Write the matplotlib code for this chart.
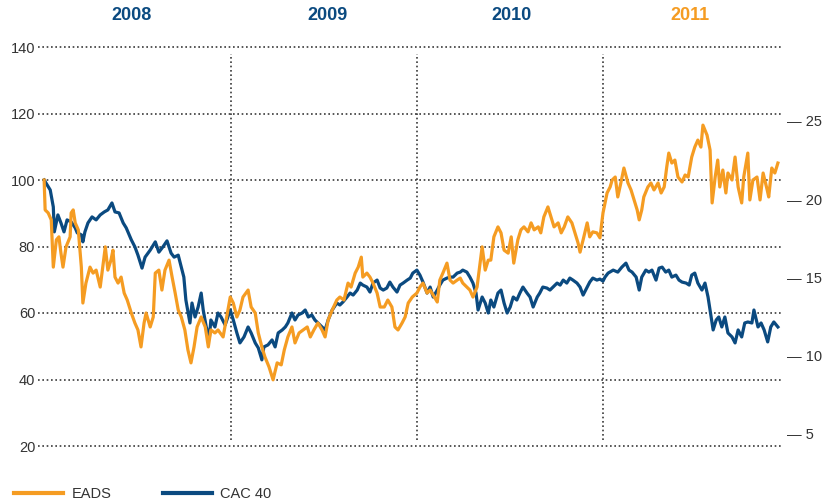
import matplotlib
matplotlib.use("Agg")
import matplotlib.pyplot as plt
from matplotlib.lines import Line2D
import numpy as np
import pandas as pd

plt.rcParams['font.family'] = ['Liberation Sans', 'DejaVu Sans']

# ---- data (days since 2008-01-01, index value base 100) ----
cac_days = [0, 12, 18, 20, 27, 33, 39, 45, 53, 61, 65, 73, 76, 80, 86, 94, 102, 110, 118, 125,
            133, 139, 147, 155, 161, 171, 178, 184, 192, 198, 208, 218, 225, 233, 241, 249, 255, 263, 269, 274,
            278, 286, 290, 296, 302, 308, 312, 318, 324, 327, 335, 341, 347, 355, 365, 371, 378, 384, 392, 400,
            406, 414, 420, 427, 431, 439, 447, 453, 459, 467, 473, 478, 486, 492, 498, 506, 512, 518, 525, 531,
            537, 545, 551, 557, 565, 574, 580, 586, 594, 600, 606, 614, 620, 625, 633, 639, 645, 653, 659, 665,
            672, 678, 684, 692, 698, 704, 712, 718, 723, 731, 737, 743, 751, 757, 763, 771, 776, 782, 790, 796,
            802, 810, 816, 821, 829, 835, 841, 847, 851, 859, 865, 871, 876, 882, 890, 896, 902, 908, 914, 920,
            927, 933, 939, 947, 953, 959, 967, 972, 978, 986, 992, 998, 1006, 1012, 1018, 1025, 1031, 1037, 1045, 1051,
            1057, 1065, 1070, 1076, 1084, 1090, 1096, 1100, 1106, 1116, 1125, 1133, 1141, 1147, 1153, 1161, 1167, 1172, 1180, 1186,
            1192, 1200, 1206, 1212, 1219, 1225, 1231, 1239, 1245, 1251, 1259, 1265, 1270, 1276, 1282, 1290, 1296, 1302, 1308, 1312,
            1318, 1323, 1329, 1335, 1341, 1349, 1355, 1361, 1368, 1374, 1380, 1388, 1392, 1400, 1406, 1412, 1419, 1425, 1431, 1439]
cac_values = [100.0, 97.0, 91.9, 84.4, 89.5, 87.1, 84.4, 88.0, 87.4, 85.6, 84.1, 83.5, 81.4, 84.4, 87.1, 88.9, 88.0, 89.5, 90.4, 91.0,
              93.1, 90.4, 90.1, 87.1, 85.6, 82.0, 79.9, 77.4, 73.5, 76.8, 78.9, 81.4, 78.3, 79.9, 81.7, 78.0, 76.8, 77.4, 73.8, 70.8,
              63.9, 57.0, 63.0, 58.8, 61.8, 66.0, 60.9, 55.8, 52.5, 57.9, 55.8, 60.0, 58.8, 56.4, 60.9, 57.9, 54.0, 51.0, 52.8, 55.8,
              54.0, 51.0, 49.5, 45.9, 49.8, 50.4, 51.9, 49.8, 54.0, 54.9, 55.8, 57.0, 60.0, 57.9, 59.4, 60.0, 60.9, 58.8, 59.4, 57.9,
              57.0, 55.8, 54.9, 57.9, 60.9, 63.0, 62.4, 63.3, 64.8, 66.0, 65.4, 66.9, 69.0, 68.4, 67.8, 66.3, 69.0, 69.9, 67.5, 66.9,
              67.5, 69.3, 67.8, 66.3, 68.4, 69.0, 69.9, 70.5, 72.0, 72.9, 71.4, 69.3, 66.0, 67.8, 64.8, 66.9, 68.4, 69.9, 70.5, 70.8,
              70.8, 72.0, 72.3, 72.9, 72.3, 70.8, 69.0, 66.0, 60.9, 64.8, 63.0, 60.0, 63.9, 61.8, 66.0, 66.9, 63.0, 60.0, 61.8, 64.8,
              63.9, 66.0, 67.8, 66.0, 64.8, 61.8, 64.8, 66.0, 67.8, 67.5, 66.9, 67.8, 69.0, 68.4, 69.9, 69.0, 70.5, 69.9, 69.0, 67.8,
              65.4, 67.8, 69.3, 70.5, 69.9, 70.2, 69.6, 70.8, 72.0, 72.9, 72.3, 73.8, 75.0, 72.9, 72.3, 70.8, 66.9, 70.8, 72.9, 72.3,
              72.9, 69.9, 73.5, 73.8, 72.3, 72.9, 70.8, 71.4, 69.9, 69.3, 69.0, 68.4, 71.4, 72.0, 69.0, 66.9, 69.0, 64.8, 58.8, 54.9,
              57.9, 58.8, 55.8, 58.8, 54.0, 52.8, 51.0, 54.9, 52.8, 57.0, 57.3, 57.0, 60.9, 55.8, 57.0, 54.9, 51.3, 55.8, 57.3, 55.8]

eads_days = [0, 2, 8, 14, 18, 24, 29, 33, 37, 43, 51, 53, 57, 61, 67, 73, 76, 82, 90, 96,
             102, 110, 116, 120, 125, 131, 135, 139, 145, 151, 157, 163, 171, 178, 184, 190, 196, 200, 208, 214,
             218, 225, 231, 237, 245, 251, 257, 263, 269, 276, 282, 288, 294, 300, 308, 316, 322, 327, 335, 341,
             351, 365, 371, 378, 384, 390, 400, 406, 414, 420, 427, 433, 441, 449, 457, 465, 471, 478, 486, 492,
             500, 508, 516, 522, 529, 537, 545, 551, 557, 565, 574, 580, 588, 596, 602, 610, 616, 622, 625, 633,
             639, 645, 653, 659, 667, 674, 682, 688, 694, 702, 708, 714, 722, 731, 737, 743, 751, 757, 763, 771,
             776, 782, 790, 796, 802, 810, 816, 821, 829, 835, 841, 849, 855, 859, 865, 871, 876, 882, 890, 896,
             902, 910, 916, 921, 929, 935, 941, 949, 955, 961, 969, 974, 980, 988, 994, 1000, 1008, 1014, 1020, 1027,
             1035, 1041, 1047, 1051, 1057, 1065, 1070, 1076, 1084, 1090, 1096, 1104, 1110, 1114, 1120, 1125, 1131, 1137, 1145, 1151,
             1157, 1163, 1167, 1172, 1176, 1184, 1190, 1196, 1204, 1210, 1216, 1221, 1225, 1231, 1237, 1243, 1251, 1257, 1263, 1270,
             1276, 1282, 1288, 1292, 1300, 1306, 1310, 1316, 1321, 1325, 1331, 1337, 1341, 1349, 1355, 1361, 1368, 1372, 1380, 1384,
             1390, 1398, 1404, 1410, 1418, 1421, 1427, 1433, 1439]
eads_values = [100.0, 91.0, 90.1, 88.0, 73.8, 82.0, 82.9, 78.0, 73.8, 79.9, 82.9, 90.1, 91.0, 87.1, 85.0, 73.8, 63.0, 69.0, 73.8, 72.0,
               72.9, 67.8, 75.0, 79.9, 72.9, 75.9, 78.9, 70.8, 69.0, 70.8, 66.0, 63.9, 60.0, 57.0, 54.9, 49.8, 57.0, 60.0, 55.8, 58.8,
               72.0, 72.9, 66.9, 72.9, 75.9, 70.8, 66.0, 60.9, 58.8, 54.9, 48.9, 45.0, 49.8, 55.8, 58.8, 55.8, 49.8, 54.9, 54.0, 54.9,
               52.8, 64.8, 63.0, 58.8, 60.9, 64.8, 66.9, 61.8, 60.0, 54.0, 49.8, 46.8, 43.8, 39.9, 45.0, 44.4, 48.9, 52.8, 55.8, 51.0,
               54.0, 54.9, 55.8, 52.8, 54.9, 57.0, 54.9, 52.8, 57.9, 60.9, 63.9, 64.8, 63.9, 69.0, 67.8, 72.0, 73.8, 76.8, 70.8, 72.0,
               70.8, 69.0, 66.0, 61.8, 61.8, 63.9, 61.8, 55.8, 54.9, 57.0, 58.8, 63.0, 64.8, 66.0, 67.8, 69.0, 66.0, 66.9, 65.4, 63.3,
               69.9, 72.0, 75.0, 69.9, 69.0, 69.9, 70.5, 69.0, 67.8, 66.9, 64.8, 67.8, 75.0, 79.9, 72.9, 75.9, 75.9, 82.9, 85.9, 84.1,
               78.9, 78.0, 82.9, 75.0, 82.0, 85.0, 85.9, 84.4, 87.1, 85.0, 85.9, 84.1, 88.9, 91.9, 88.9, 85.9, 87.1, 84.1, 85.9, 88.9,
               87.1, 84.1, 81.1, 78.3, 82.0, 87.1, 82.9, 84.4, 84.1, 82.6, 90.1, 96.1, 97.9, 100.0, 100.9, 94.9, 99.1, 103.6, 99.1, 97.0,
               94.0, 91.0, 88.0, 91.0, 94.9, 97.9, 99.1, 97.0, 99.1, 96.1, 97.9, 103.9, 108.1, 105.1, 106.0, 100.9, 99.4, 101.5, 100.9, 106.9,
               109.9, 112.0, 109.9, 116.5, 113.5, 109.0, 93.1, 100.9, 106.0, 97.9, 103.0, 96.1, 102.1, 100.0, 106.9, 97.9, 93.1, 100.9, 108.1, 94.0,
               100.0, 100.9, 94.0, 102.1, 97.0, 94.9, 103.6, 102.1, 105.1]

year_labels = ['2008', '2009', '2010', '2011']
year_label_days = [171, 555, 916, 1266]
year_boundaries = [366, 731, 1096]
left_ticks = [20, 40, 60, 80, 100, 120, 140]
right_ticks = [5, 10, 15, 20, 25]
series_labels = ['EADS', 'CAC 40']

ORANGE = '#F59C22'
BLUE = '#0B4A80'
TXT = '#333333'
DOT = '#3a3a3a'
DOTSTYLE = (0, (1, 1.6))

W, H = 834, 501
fig = plt.figure(figsize=(W / 100, H / 100), dpi=100)
ax_l, ax_r = 38 / W, 783 / W
ax_b, ax_t = (H - 446) / H, (H - 47) / H
ax = fig.add_axes([ax_l, ax_b, ax_r - ax_l, ax_t - ax_b])
ax.set_xlim(-12, 1449)
ax.set_ylim(20, 140)

for s in ax.spines.values():
    s.set_visible(False)

# horizontal dotted gridlines
for v in left_ticks:
    ax.axhline(v, color=DOT, lw=1.2, ls=DOTSTYLE, clip_on=False, zorder=1)
# vertical year separators
for d in year_boundaries:
    ax.axvline(d, ymin=0.015, ymax=0.983, color=DOT, lw=1.2, ls=DOTSTYLE, zorder=1)

ax.plot(cac_days, cac_values, color=BLUE, lw=2.3, zorder=3, solid_joinstyle='round')
ax.plot(eads_days, eads_values, color=ORANGE, lw=2.3, zorder=4, solid_joinstyle='round')

ax.set_xticks([])
ax.set_yticks(left_ticks)
ax.set_yticklabels([str(t) for t in left_ticks])
ax.tick_params(axis='y', length=0, pad=2, labelsize=10.5, labelcolor=TXT)

# right axis (share price scale)
ax2 = ax.twinx()
r_lo = 5 + (20 - 23.76) / 4.70
r_hi = 5 + (140 - 23.76) / 4.70
ax2.set_ylim(r_lo, r_hi)
ax2.set_yticks(right_ticks)
ax2.set_yticklabels(['\u2014 ' + str(t) for t in right_ticks])
ax2.tick_params(axis='y', length=0, pad=3, labelsize=10.5, labelcolor=TXT)
for s in ax2.spines.values():
    s.set_visible(False)

# year labels on top
for lab, d in zip(year_labels, year_label_days):
    col = ORANGE if lab == '2011' else BLUE
    ax.text(d, 1.0 + 32 / 399, lab, transform=ax.get_xaxis_transform(),
            ha='center', va='center', fontsize=13, fontweight='bold', color=col,
            family=['Liberation Sans Narrow', 'Liberation Sans'])

# legend
handles = [Line2D([0], [0], color=ORANGE, lw=3.0), Line2D([0], [0], color=BLUE, lw=3.0)]
fig.legend(handles, series_labels, loc='center left', bbox_to_anchor=(1 / W, (H - 494) / H),
           ncol=2, frameon=False, fontsize=10.5, handlelength=3.35, handletextpad=0.6,
           columnspacing=3.5, labelcolor=TXT)

fig.savefig('out.png', dpi=100)
